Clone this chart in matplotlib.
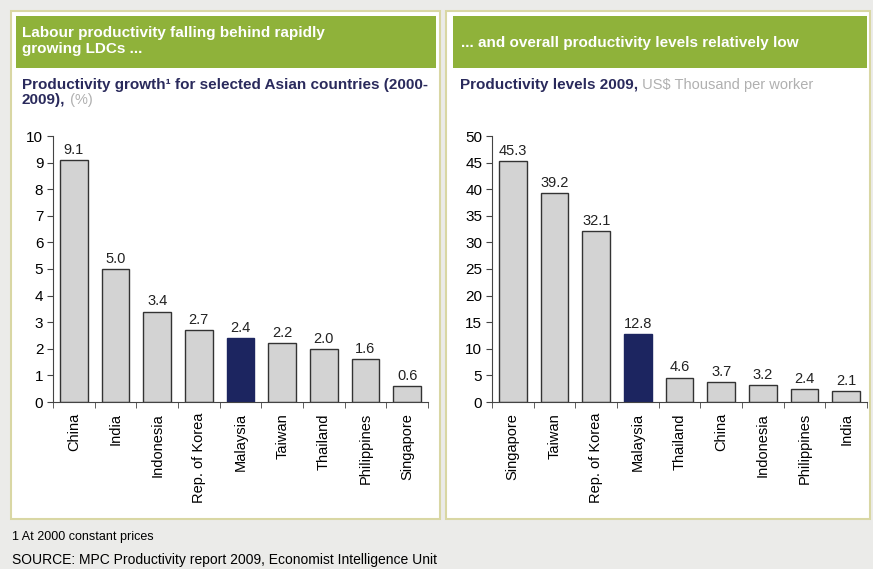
import numpy as np
import matplotlib.pyplot as plt
from matplotlib.patches import Rectangle

plt.rcParams['font.family'] = ['Liberation Sans', 'DejaVu Sans']

# Data
growth_countries = ['China', 'India', 'Indonesia', 'Rep. of Korea', 'Malaysia',
                    'Taiwan', 'Thailand', 'Philippines', 'Singapore']
growth_values = [9.1, 5.0, 3.4, 2.7, 2.4, 2.2, 2.0, 1.6, 0.6]

level_countries = ['Singapore', 'Taiwan', 'Rep. of Korea', 'Malaysia', 'Thailand',
                   'China', 'Indonesia', 'Philippines', 'India']
level_values = [45.3, 39.2, 32.1, 12.8, 4.6, 3.7, 3.2, 2.4, 2.1]

W, H = 873, 569
fig = plt.figure(figsize=(W / 100, H / 100), dpi=100)
fig.patch.set_facecolor('#ebebe9')

GREEN = '#8fb23a'
NAVY = '#2a2a5c'
BORDER = '#d9d7a4'
GREY_BAR = '#d3d3d3'
HIGHLIGHT = '#1c2560'


def px(x, y):
    # image pixel coords (top-left origin) -> figure fraction
    return x / W, 1 - y / H


def box(x0, y0, x1, y1, **kw):
    fx0, fy1 = px(x0, y1)
    r = Rectangle((fx0, fy1), (x1 - x0) / W, (y1 - y0) / H,
                  transform=fig.transFigure, zorder=-5, **kw)
    fig.patches.append(r)


# panels
box(11, 11, 440, 519, facecolor='white', edgecolor=BORDER, lw=1.5)
box(446, 11, 870, 519, facecolor='white', edgecolor=BORDER, lw=1.5)
box(16, 16, 436, 68, facecolor=GREEN, edgecolor='none')
box(453, 16, 867, 68, facecolor=GREEN, edgecolor='none')

fig.text(*px(22, 33), 'Labour productivity falling behind rapidly',
         color='white', fontsize=11, fontweight='bold', va='center')
fig.text(*px(22, 49), 'growing LDCs ...',
         color='white', fontsize=11, fontweight='bold', va='center')
fig.text(*px(461, 43), '... and overall productivity levels relatively low',
         color='white', fontsize=11, fontweight='bold', va='center')


def two_part(x, y, bold_txt, grey_txt):
    t = fig.text(*px(x, y), bold_txt, color=NAVY, fontsize=11,
                 fontweight='bold', va='center')
    fig.canvas.draw()
    bb = t.get_window_extent()
    fig.text(bb.x1 / W, 1 - y / H, grey_txt, color='#b0b0b0',
             fontsize=10.5, va='center')


fig.text(*px(22, 85), 'Productivity growth¹ for selected Asian countries (2000-',
         color=NAVY, fontsize=11, fontweight='bold', va='center')
two_part(22, 100, '2009),', ' (%)')
two_part(460, 85, 'Productivity levels 2009,', ' US$ Thousand per worker')

fig.text(*px(12, 537), '1 At 2000 constant prices', fontsize=9, va='center')
fig.text(*px(12, 560), 'SOURCE: MPC Productivity report 2009, Economist Intelligence Unit',
         fontsize=10, va='center')


def bar_panel(left, names, vals, ymax, step):
    x0, y0 = px(left, 402)
    ax = fig.add_axes([x0, y0, 375 / W, 266 / H])
    ax.set_facecolor('none')
    x = np.arange(len(names))
    colors = [HIGHLIGHT if n == 'Malaysia' else GREY_BAR for n in names]
    edges = [HIGHLIGHT if n == 'Malaysia' else '#333333' for n in names]
    ax.bar(x, vals, width=0.66, color=colors, edgecolor=edges, linewidth=1)
    for xi, v in zip(x, vals):
        ax.text(xi, v + ymax * 0.012, f'{v:.1f}', ha='center', va='bottom',
                fontsize=10.5, color='#222222')
    ax.set_xlim(-0.5, len(names) - 0.5)
    ax.set_ylim(0, ymax)
    ax.set_yticks(np.arange(0, ymax + step, step))
    ax.set_xticks(x)
    ax.set_xticklabels(names, rotation=90, fontsize=10.5)
    ax.set_xticks(np.arange(-0.5, len(names)), minor=True)
    ax.tick_params(axis='x', which='major', length=0, pad=8)
    ax.tick_params(axis='x', which='minor', length=4, direction='out', color='#444444')
    ax.tick_params(axis='y', length=4, labelsize=11, color='#444444', pad=3)
    for s in ['top', 'right']:
        ax.spines[s].set_visible(False)
    ax.spines['left'].set_color('#444444')
    ax.spines['bottom'].set_color('#444444')
    return ax


bar_panel(53, growth_countries, growth_values, 10, 1)
bar_panel(492, level_countries, level_values, 50, 5)

fig.savefig('out.png', dpi=100, facecolor=fig.get_facecolor())
